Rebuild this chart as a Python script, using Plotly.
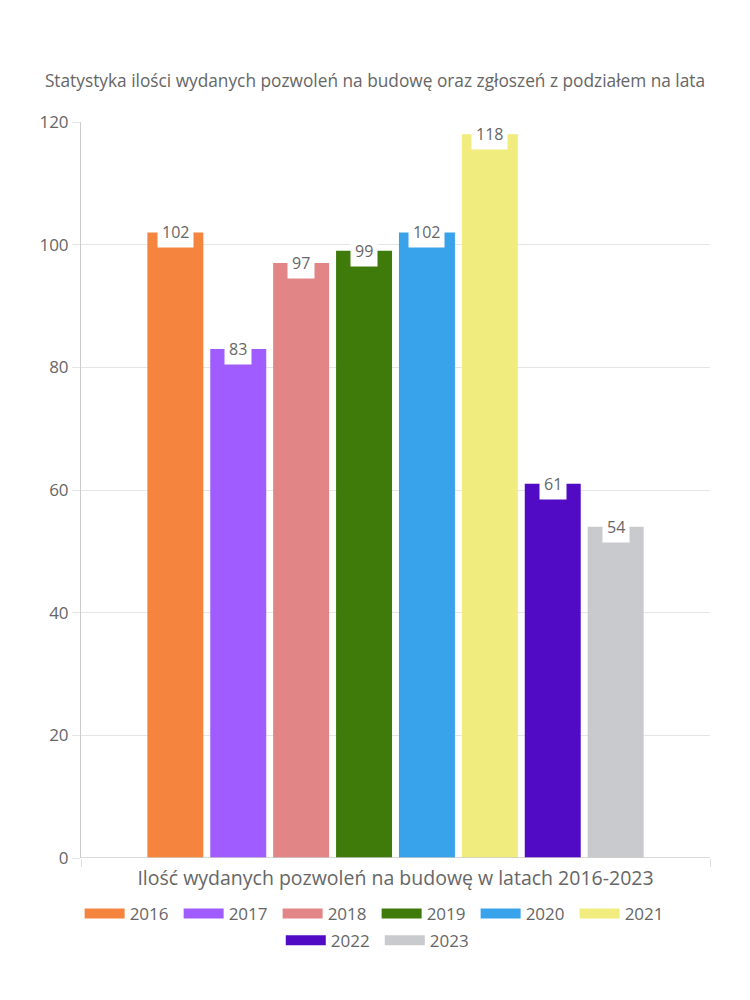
import plotly.graph_objects as go

years = ["2016", "2017", "2018", "2019", "2020", "2021", "2022", "2023"]
year_pos = [2016, 2017, 2018, 2019, 2020, 2021, 2022, 2023]
values = [102, 83, 97, 99, 102, 118, 61, 54]
colors = ["#F5843F", "#A05CFE", "#E28587", "#3E7B0B", "#38A3EA", "#F0EC7E", "#520BC5", "#C9CACE"]

title_text = "Statystyka ilości wydanych pozwoleń na budowę oraz zgłoszeń z podziałem na lata"
x_title = "Ilość wydanych pozwoleń na budowę w latach 2016-2023"
y_ticks = [0, 20, 40, 60, 80, 100, 120]

FONT = "Open Sans"
TXT = "#666666"

fig = go.Figure()
for i, (yr, xp, v, c) in enumerate(zip(years, year_pos, values, colors)):
    fig.add_trace(go.Bar(
        x=[xp], y=[v], name=yr, marker=dict(color=c, line=dict(width=0)),
        width=0.89, showlegend=False, hoverinfo="skip",
    ))
    # legend proxy
    fig.add_trace(go.Scatter(
        x=[None], y=[None], mode="lines", name=yr,
        line=dict(color=c, width=17),
        legend="legend" if i < 6 else "legend2",
    ))
    fig.add_annotation(
        x=xp, y=v, text=str(v), showarrow=False, yanchor="middle", yshift=0,
        bgcolor="white", borderpad=4, font=dict(family=FONT, size=16, color=TXT),
    )

fig.update_layout(
    width=750, height=1000,
    margin=dict(l=81, r=40, t=122, b=142),
    paper_bgcolor="white", plot_bgcolor="white",
    barmode="overlay",
    font=dict(family=FONT, color=TXT),
    title=dict(text=title_text, x=0.5, xanchor="center", y=1 - 81 / 1000, yanchor="middle",
               font=dict(family=FONT, size=17.3, color=TXT)),
    xaxis=dict(
        range=[2014.5, 2024.5], tickvals=[2014.5, 2024.5], ticktext=["", ""],
        ticks="outside", ticklen=8, tickcolor="#dddddd",
        showgrid=True, gridcolor="#e5e5e5", zeroline=False,
        showline=False,
        title=dict(text=x_title, font=dict(family=FONT, size=19.5, color=TXT), standoff=2),
        fixedrange=True,
    ),
    yaxis=dict(
        range=[0, 120], tickvals=y_ticks,
        ticks="outside", ticklen=8, tickcolor="#e5e5e5",
        showgrid=True, gridcolor="#e5e5e5", zeroline=False,
        showline=True, linecolor="#cccccc", linewidth=1,
        tickfont=dict(family=FONT, size=17, color=TXT),
        fixedrange=True,
    ),
    legend=dict(orientation="h", x=0.47, xanchor="center", y=-0.0516, yanchor="top",
                font=dict(family=FONT, size=17, color=TXT), itemwidth=40,
                entrywidth=44, tracegroupgap=0),
    legend2=dict(orientation="h", x=0.475, xanchor="center", y=-0.088, yanchor="top",
                 font=dict(family=FONT, size=17, color=TXT), itemwidth=40,
                 entrywidth=44, tracegroupgap=0),
)
# bottom baseline
fig.add_shape(type="line", xref="paper", yref="y", x0=0, x1=1, y0=0, y1=0,
              line=dict(color="#cccccc", width=1.5), layer="above")

fig.write_html("out.html")
